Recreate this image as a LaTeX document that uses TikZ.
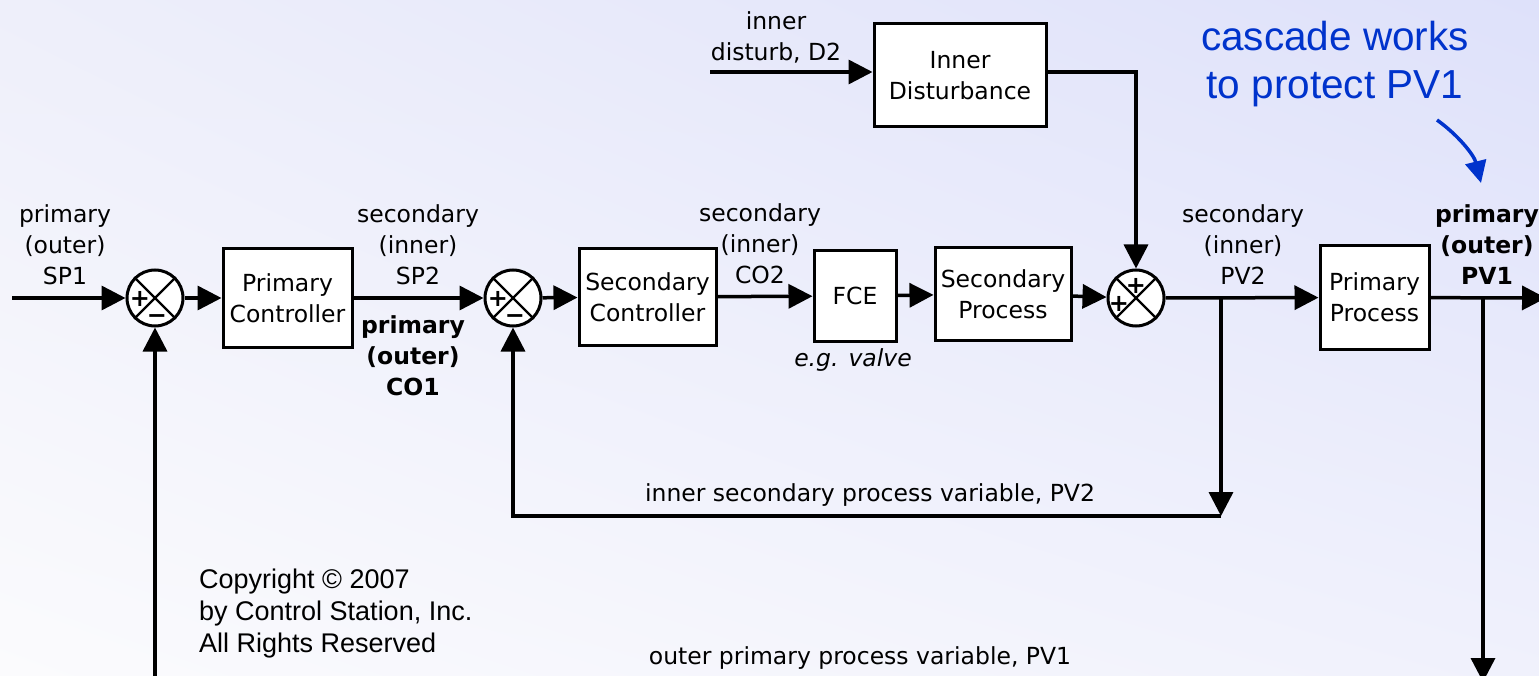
\documentclass[tikz,border=0pt]{standalone}
\usepackage{fontspec}
\setmainfont{DejaVu Sans}
\newfontfamily\arialf{Liberation Sans}
\usetikzlibrary{arrows.meta,shadings}
\definecolor{csblue}{RGB}{0,51,204}
\definecolor{bgUL}{RGB}{238,239,250}
\definecolor{bgUR}{RGB}{222,225,250}
\definecolor{bgLL}{RGB}{251,251,253}
\definecolor{bgLR}{RGB}{240,241,252}
\newcommand{\lblfont}{\fontsize{23.5}{31}\selectfont}
\begin{document}
\begin{tikzpicture}[x=1pt,y=-1pt,
  blk/.style={draw, line width=3pt, fill=white, inner sep=0pt, align=center, font=\lblfont},
  sumj/.style={draw, circle, line width=3pt, fill=white, minimum size=56pt, inner sep=0pt},
  lbl/.style={align=center, font=\lblfont, inner sep=0pt},
  wire/.style={line width=3.5pt, line join=miter},
  arr/.style={wire, -{Triangle[length=24pt,width=24pt]}},
  sgn/.style={font=\fontsize{24}{24}\selectfont\bfseries, inner sep=0pt}
]
\useasboundingbox (0,0) rectangle (1539,676);
\shade[upper left=bgUL, upper right=bgUR, lower left=bgLL, lower right=bgLR] (0,0) rectangle (1539,676);

% blocks
\node[blk, minimum width=129pt, minimum height=98pt] (pc) at (287.5,298) {Primary\\Controller};
\node[blk, minimum width=137pt, minimum height=96pt] (sc) at (647.5,297) {Secondary\\Controller};
\node[blk, minimum width=82pt, minimum height=91pt] (fce) at (855,296) {FCE};
\node[blk, minimum width=136pt, minimum height=92pt] (sp) at (1003,294) {Secondary\\Process};
\node[blk, minimum width=109pt, minimum height=103pt] (pp) at (1374.5,297.5) {Primary\\Process};
\node[blk, minimum width=172pt, minimum height=103pt] (id) at (960,75.5) {Inner\\Disturbance};

% summing junctions
\node[sumj] (s1) at (155,298) {};
\node[sumj] (s2) at (513,298) {};
\node[sumj] (s3) at (1136,298) {};
\foreach \s in {s1,s2,s3}{
  \draw[line width=2.2pt] (\s.north west) -- (\s.south east);
  \draw[line width=2.2pt] (\s.north east) -- (\s.south west);
}
\node[sgn] (p1) at ([shift={(-15,1)}]s1.center) {+};
\node[sgn] (m1) at ([shift={(2,21)}]s1.center) {−};
\node[sgn] (p2) at ([shift={(-15,1)}]s2.center) {+};
\node[sgn] (m2) at ([shift={(2,21)}]s2.center) {−};
\node[sgn] (p3) at ([shift={(0,-12)}]s3.center) {+};
\node[sgn] (p4) at ([shift={(-17,6)}]s3.center) {+};

% coordinates
\coordinate (sp1in) at (12,298);
\coordinate (out) at (1546,298);
\coordinate (d2in) at (710,72);
\coordinate (br2) at (1221,298);
\coordinate (fb2c) at (1221,516);
\coordinate (br1) at (1483,298);
\coordinate (br1bot) at (1483,682);
\coordinate (fb1bot) at (155,690);

% connectors
\draw[arr] (sp1in) -- (s1);
\draw[arr] (s1) -- (pc);
\draw[arr] (pc) -- (s2);
\draw[arr] (s2) -- (sc);
\draw[arr] (sc) -- (fce);
\draw[arr] (fce) -- (sp);
\draw[arr] (sp) -- (s3);
\draw[arr] (s3) -- (pp);
\draw[arr] (pp) -- (out);
\draw[arr] (d2in) -- (id.west |- d2in);
\draw[arr] (id.east |- d2in) -| (s3);
\draw[arr] (br2) -- (fb2c);
\draw[arr] (fb2c) -| (s2);
\draw[arr] (br1) -- (br1bot);
\draw[arr] (fb1bot) -- (s1);

% labels
\node[lbl] (lsp1) at (65,245) {primary\\(outer)\\SP1};
\node[lbl] (lsp2) at (418,245) {secondary\\(inner)\\SP2};
\node[lbl, font=\lblfont\bfseries] (lco1) at (413,356) {primary\\(outer)\\CO1};
\node[lbl] (lco2) at (760,244) {secondary\\(inner)\\CO2};
\node[lbl, font=\lblfont\itshape] (lvalve) at (853,360) {e.g. valve};
\node[lbl] (lpv2) at (1243,245) {secondary\\(inner)\\PV2};
\node[lbl, font=\lblfont\bfseries] (lpv1) at (1487,245) {primary\\(outer)\\PV1};
\node[lbl] (ld2) at (776,37) {inner\\disturb, D2};
\node[lbl] (lfb2) at (870,495) {inner secondary process variable, PV2};
\node[lbl] (lfb1) at (860,658) {outer primary process variable, PV1};
\node[lbl, align=left, anchor=west, font=\arialf\fontsize{27}{32}\selectfont] (copy) at (199,614) {Copyright © 2007\\by Control Station, Inc.\\All Rights Reserved};
\node[lbl, text=csblue, font=\arialf\fontsize{40.5}{48}\selectfont] (casc) at (1335,64) {cascade works\\to protect PV1};
\coordinate (cs) at (1437,120);
\coordinate (ce) at (1481,183);
\draw[line width=3.5pt, csblue, -{Triangle[length=22pt,width=21pt]}] (cs) .. controls (1458,135) and (1474,155) .. (ce);
\end{tikzpicture}
\end{document}
